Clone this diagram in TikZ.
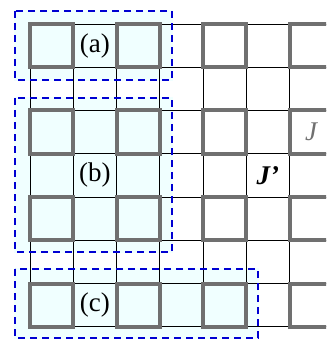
\documentclass[tikz,border=0pt]{standalone}
\usepackage{fontspec}
\setmainfont{Liberation Serif}
\definecolor{zonefill}{RGB}{240,255,255}
\definecolor{sqgray}{RGB}{112,112,112}
\definecolor{zoneblue}{RGB}{0,0,210}
\begin{document}
\begin{tikzpicture}[x=1pt,y=-1pt,
  gridline/.style={black,line width=0.8pt},
  graysq/.style={draw=sqgray,line width=4pt},
  zone/.style={draw=zoneblue,line width=1.8pt,dash pattern=on 7pt off 5pt},
  lbl/.style={inner sep=0pt,font=\fontsize{27}{32}\selectfont}]
\useasboundingbox (0,0) rectangle (326,339);
\clip (0,0) rectangle (326,339);
\def\cs{43.25}
% shaded zones (fill only)
\fill[zonefill] (14,10) rectangle (173,81);
\fill[zonefill] (14,97) rectangle (173,253);
\fill[zonefill] (14,268) rectangle (259,339);
% grid
\foreach \i in {0,...,7}{
  \draw[gridline] (30+\i*\cs,24) -- (30+\i*\cs,24+7*\cs);
  \draw[gridline] (30,24+\i*\cs) -- (340,24+\i*\cs);
}
% gray squares
\foreach \c in {0,2,4,6}{
  \foreach \r in {0,2,4,6}{
    \draw[graysq] (30+\c*\cs,24+\r*\cs) rectangle (30+\c*\cs+\cs,24+\r*\cs+\cs);
  }
}
% dashed zone frames
\draw[zone] (15,11) rectangle (172,80);
\draw[zone] (15,98) rectangle (172,252);
\draw[zone] (15,269) rectangle (258,338);
% labels
\node[lbl] (la) at (30+1.5*\cs,24+0.5*\cs) {(a)};
\node[lbl] (lb) at (30+1.5*\cs,24+3.5*\cs) {(b)};
\node[lbl] (lc) at (30+1.5*\cs,24+6.5*\cs) {(c)};
\node[lbl] (jp) at (30+5.5*\cs,24+3.5*\cs) {\bfseries\itshape J’};
\node[lbl,text=sqgray] (j) at (30+6.5*\cs,24+2.5*\cs) {\itshape J};
\end{tikzpicture}
\end{document}
